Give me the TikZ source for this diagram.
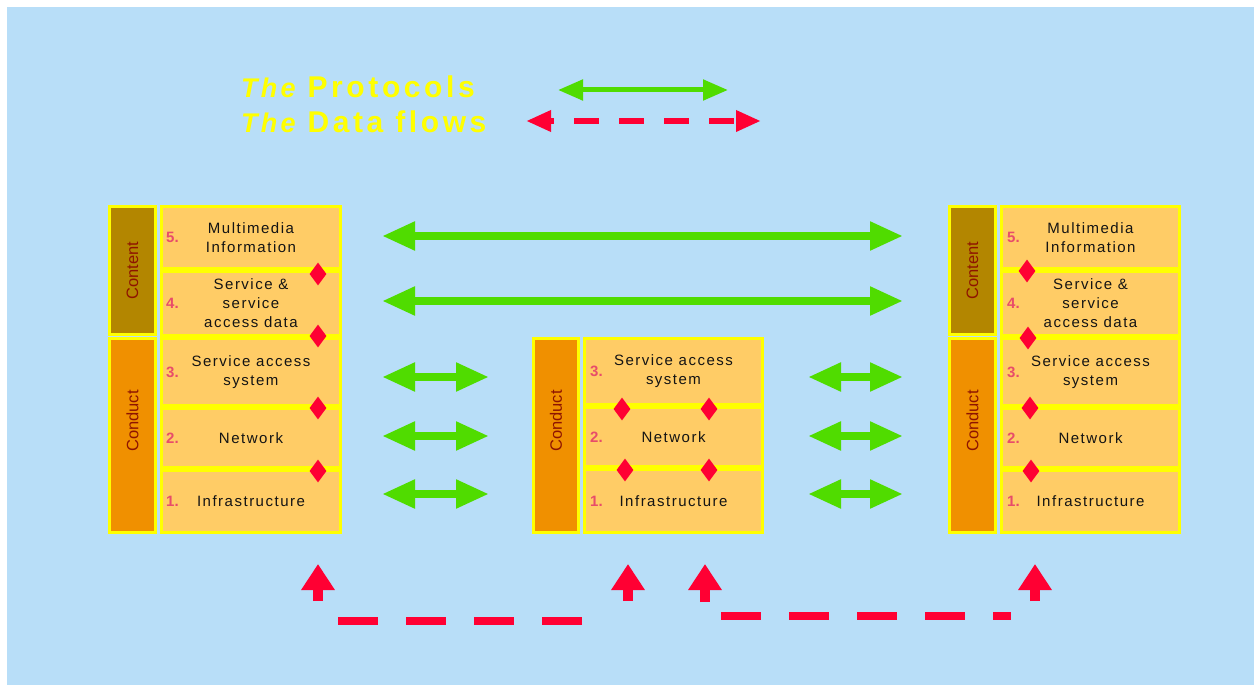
\documentclass[tikz,border=0pt]{standalone}
\usepackage{fontspec}
\setmainfont{Liberation Sans}
\newfontfamily\spaced[LetterSpace=10]{Liberation Sans}
\newfontfamily\widespaced[LetterSpace=12]{Liberation Sans}
\usetikzlibrary{arrows.meta,shapes.geometric}

\definecolor{bgblue}{HTML}{B8DEF8}
\definecolor{boxfill}{HTML}{FFCC66}
\definecolor{edge}{HTML}{FFFF00}
\definecolor{contentfill}{HTML}{B38600}
\definecolor{conductfill}{HTML}{F09000}
\definecolor{barlabel}{HTML}{8E1400}
\definecolor{flowred}{HTML}{FF0033}
\definecolor{protogreen}{HTML}{50DC00}
\definecolor{numpink}{HTML}{E84C6A}
\definecolor{ink}{HTML}{141414}

\tikzset{
  layerbox/.style={draw=edge, line width=3pt, fill=boxfill, inner sep=0pt,
    align=center, text=ink, font=\spaced\fontsize{15}{19}\selectfont},
  barbox/.style={draw=edge, line width=3pt, inner sep=0pt},
  barlabeltext/.style={rotate=90, text=barlabel, inner sep=0pt,
    font=\fontsize{16.5}{20}\selectfont},
  layernum/.style={anchor=west, text=numpink, inner sep=0pt,
    font=\bfseries\fontsize{15}{17}\selectfont},
  link/.style={diamond, fill=flowred, inner sep=0pt, minimum width=17pt,
    minimum height=23pt},
  protocol/.style={draw=protogreen, line width=8pt,
    {Triangle[length=33pt,width=27pt]}-{Triangle[length=33pt,width=27pt]}},
  flowdash/.style={draw=flowred, line width=8pt, dash pattern=on 40pt off 28pt},
  flowup/.style={draw=flowred, line width=10pt,
    -{Triangle[length=26pt,width=32pt]}},
  headline/.style={anchor=base west, text=edge, inner sep=0pt,
    font=\widespaced\bfseries\fontsize{30}{36}\selectfont},
}

\newcommand{\thepre}{{\itshape\fontsize{27}{32}\selectfont The}}

\begin{document}
\begin{tikzpicture}[x=1pt, y=-1pt]
\useasboundingbox (0,0) rectangle (1254,685);
\fill[white] (0,0) rectangle (1254,685);
\fill[bgblue] (7,7) rectangle (1254,685);

% ---- legend ----
\node[headline] (hproto) at (241,97) {\thepre{} Protocols};
\node[headline] (hflow) at (241,132) {\thepre{} Data flows};
\coordinate (lgA) at (558,90);
\coordinate (lgB) at (728,90);
\draw[draw=protogreen, line width=5pt,
  {Triangle[length=25pt,width=20pt]}-{Triangle[length=25pt,width=20pt]}] (lgA) -- (lgB);
\coordinate (lrA) at (526,121);
\coordinate (lrB) at (761,121);
\draw[draw=flowred, line width=6.5pt, dash pattern=on 25pt off 20pt, dash phase=20pt,
  {Triangle[length=25pt,width=20pt]}-{Triangle[length=25pt,width=20pt]}] (lrA) -- (lrB);

% ---- left stack ----
\node[barbox, fill=contentfill, minimum width=46pt, minimum height=128pt] (lcontent) at (132.5,270.5) {};
\node[barbox, fill=conductfill, minimum width=46pt, minimum height=194pt] (lconduct) at (132.5,435.5) {};
\node[barlabeltext] (lcontentT) at (132.5,270.5) {Content};
\node[barlabeltext] (lconductT) at (132.5,421) {Conduct};

\node[layerbox, minimum width=179pt, minimum height=62pt] (l5) at (251,237.5) {Multimedia\\Information};
\node[layerbox, minimum width=179pt, minimum height=64pt] (l4) at (251,303.5) {Service \&\\service\\access data};
\node[layerbox, minimum width=179pt, minimum height=67pt] (l3) at (251,372) {Service access\\system};
\node[layerbox, minimum width=179pt, minimum height=59pt] (l2) at (251,438) {Network};
\node[layerbox, minimum width=179pt, minimum height=62pt] (l1) at (251,501.5) {Infrastructure};
\foreach \n in {5,4,3,2,1}
  \node[layernum] (l\n num) at ([xshift=6pt]l\n.west) {\n.};

\node[link] (ld54) at (318,274) {};
\node[link] (ld43) at (318,336) {};
\node[link] (ld32) at (318,408) {};
\node[link] (ld21) at (318,471) {};

% ---- middle stack ----
\node[barbox, fill=conductfill, minimum width=45pt, minimum height=194pt] (mconduct) at (556,435.5) {};
\node[barlabeltext] (mconductT) at (556,421) {Conduct};

\node[layerbox, minimum width=178pt, minimum height=66pt] (m3) at (673.5,371.5) {Service access\\system};
\node[layerbox, minimum width=178pt, minimum height=59pt] (m2) at (673.5,437) {Network};
\node[layerbox, minimum width=178pt, minimum height=63pt] (m1) at (673.5,501) {Infrastructure};
\foreach \n in {3,2,1}
  \node[layernum] (m\n num) at ([xshift=7pt]m\n.west) {\n.};

\node[link] (md32a) at (622,409) {};
\node[link] (md32b) at (709,409) {};
\node[link] (md21a) at (625,470) {};
\node[link] (md21b) at (709,470) {};

% ---- right stack ----
\node[barbox, fill=contentfill, minimum width=46pt, minimum height=128pt] (rcontent) at (972.5,270.5) {};
\node[barbox, fill=conductfill, minimum width=46pt, minimum height=194pt] (rconduct) at (972.5,435.5) {};
\node[barlabeltext] (rcontentT) at (972.5,270.5) {Content};
\node[barlabeltext] (rconductT) at (972.5,421) {Conduct};

\node[layerbox, minimum width=178pt, minimum height=62pt] (r5) at (1090.5,237.5) {Multimedia\\Information};
\node[layerbox, minimum width=178pt, minimum height=64pt] (r4) at (1090.5,303.5) {Service \&\\service\\access data};
\node[layerbox, minimum width=178pt, minimum height=67pt] (r3) at (1090.5,372) {Service access\\system};
\node[layerbox, minimum width=178pt, minimum height=59pt] (r2) at (1090.5,438) {Network};
\node[layerbox, minimum width=178pt, minimum height=62pt] (r1) at (1090.5,501.5) {Infrastructure};
\foreach \n in {5,4,3,2,1}
  \node[layernum] (r\n num) at ([xshift=7pt]r\n.west) {\n.};

\node[link] (rd54) at (1027,271) {};
\node[link] (rd43) at (1028,338) {};
\node[link] (rd32) at (1030,408) {};
\node[link] (rd21) at (1031,471) {};

% ---- protocol arrows ----
\coordinate (pA5) at (382,236);  \coordinate (pB5) at (903,236);
\coordinate (pA4) at (382,301);  \coordinate (pB4) at (903,301);
\draw[protocol] (pA5) -- (pB5);
\draw[protocol] (pA4) -- (pB4);
\foreach \n/\y in {3/377,2/436,1/494} {
  \coordinate (pL\n a) at (382,\y); \coordinate (pL\n b) at (489,\y);
  \coordinate (pR\n a) at (808,\y); \coordinate (pR\n b) at (903,\y);
  \draw[protocol] (pL\n a) -- (pL\n b);
  \draw[protocol] (pR\n a) -- (pR\n b);
}

% ---- data flow along the bottom ----
\coordinate (up1s) at (318,601);  \coordinate (up1t) at (318,564);
\coordinate (up2s) at (628,601);  \coordinate (up2t) at (628,564);
\coordinate (up3s) at (705,602);  \coordinate (up3t) at (705,564);
\coordinate (up4s) at (1035,601); \coordinate (up4t) at (1035,564);
\draw[flowup] (up1s) -- (up1t);
\draw[flowup] (up2s) -- (up2t);
\draw[flowup] (up3s) -- (up3t);
\draw[flowup] (up4s) -- (up4t);

\coordinate (fl1a) at (338,621); \coordinate (fl1b) at (582,621);
\coordinate (fl2a) at (721,616); \coordinate (fl2b) at (1011,616);
\draw[flowdash] (fl1a) -- (fl1b);
\draw[flowdash] (fl2a) -- (fl2b);
\end{tikzpicture}
\end{document}
